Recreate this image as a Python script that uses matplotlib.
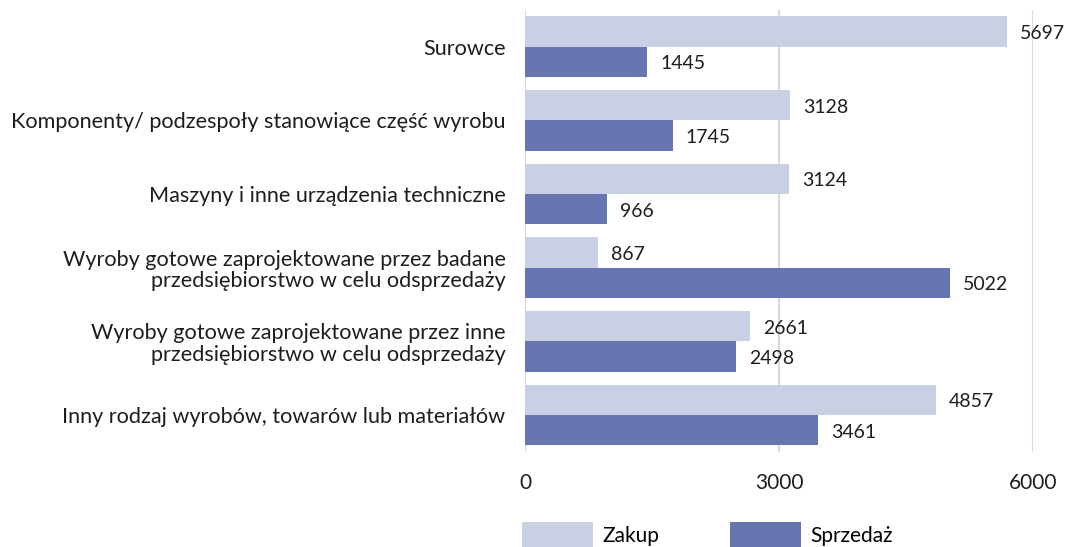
import numpy as np
import matplotlib
matplotlib.use("Agg")
import matplotlib.pyplot as plt

plt.rcParams['font.family'] = ['Lato', 'DejaVu Sans']

# dane
categories = [
    "Surowce",
    "Komponenty/ podzespoły stanowiące część wyrobu",
    "Maszyny i inne urządzenia techniczne",
    "Wyroby gotowe zaprojektowane przez badane\nprzedsiębiorstwo w celu odsprzedaży",
    "Wyroby gotowe zaprojektowane przez inne\nprzedsiębiorstwo w celu odsprzedaży",
    "Inny rodzaj wyrobów, towarów lub materiałów",
]
zakup = [5697, 3128, 3124, 867, 2661, 4857]
sprzedaz = [1445, 1745, 966, 5022, 2498, 3461]
xticks = [0, 3000, 6000]

c_zakup = '#C9D0E3'
c_sprz = '#6775B0'
txt = '#1E1E1E'

fig = plt.figure(figsize=(10.67, 5.47), dpi=100)
ax = fig.add_axes([0.492, 0.174, 0.476, 0.808])

y = np.arange(len(categories))
h = 0.41
b1 = ax.barh(y - h / 2, zakup, height=h, color=c_zakup, label='Zakup', zorder=2)
b2 = ax.barh(y + h / 2, sprzedaz, height=h, color=c_sprz, label='Sprzedaż', zorder=2)

for bars, vals in ((b1, zakup), (b2, sprzedaz)):
    for bar, v in zip(bars, vals):
        ax.annotate(str(v), (bar.get_width(), bar.get_y() + bar.get_height() / 2),
                    xytext=(13, -2), textcoords='offset pixels',
                    va='center', ha='left', fontsize=14, color=txt,
                    annotation_clip=False)

ax.set_xlim(0, 6000)
ax.set_ylim(len(categories) - 0.5, -0.5)
ax.set_xticks(xticks)
ax.set_xticklabels([str(t) for t in xticks])
ax.set_yticks(y)
ax.set_yticklabels(categories, fontsize=15.6, color=txt, linespacing=1.1)
ax.tick_params(axis='both', length=0, labelcolor=txt)
ax.tick_params(axis='x', pad=15, labelsize=15)
ax.tick_params(axis='y', pad=14)
ax.grid(axis='x', color='#D9D9D9', linewidth=1.5, zorder=0)
for s in ax.spines.values():
    s.set_visible(False)

ax.legend(loc='upper left', bbox_to_anchor=(-0.006, -0.158), ncol=2, frameon=False,
          fontsize=15, handlelength=3.4, handleheight=1.6, columnspacing=3.4,
          handletextpad=0.45, borderaxespad=0, borderpad=0)

fig.savefig('out.png', dpi=100)
